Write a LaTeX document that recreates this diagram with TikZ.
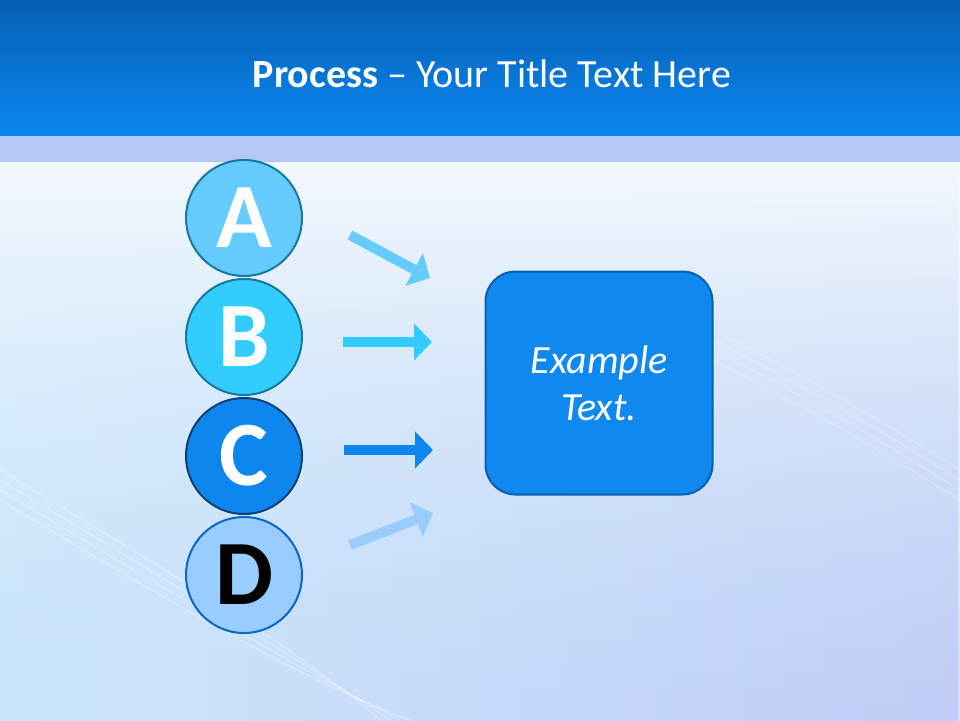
\documentclass[tikz,border=0pt]{standalone}
\usepackage{fontspec}
\setmainfont{Carlito}
\usetikzlibrary{arrows.meta, positioning, fadings}
\definecolor{barTop}{HTML}{0560B4}
\definecolor{barBot}{HTML}{0A86F0}
\definecolor{band}{HTML}{B3C8F6}
\definecolor{bgA}{HTML}{F4F9FE}
\definecolor{bgB}{HTML}{C0CDF5}
\definecolor{bgC}{HTML}{CBE6FB}
\definecolor{colA}{HTML}{66CCFF}
\definecolor{colB}{HTML}{33CCFF}
\definecolor{colC}{HTML}{0D87EE}
\definecolor{colD}{HTML}{99CCFF}
\definecolor{edgeA}{HTML}{1778A2}
\definecolor{edgeB}{HTML}{127A9E}
\definecolor{edgeC}{HTML}{0B3F78}
\definecolor{edgeD}{HTML}{0A66CC}
\definecolor{boxFill}{HTML}{0F88F0}
\definecolor{boxEdge}{HTML}{0B5FAE}

\begin{document}
\begin{tikzpicture}[x=1pt, y=-1pt]
\tikzstyle{letter}=[circle, minimum size = 116pt, inner sep = 0pt, line width = 2pt, font = \fontsize{92}{92}\selectfont\bfseries, text = white, node distance = 1pt]
\tikzstyle{connect}=[line width = 10pt, -{Triangle[length=18pt, width=36pt]}]
\useasboundingbox (0,0) rectangle (960,720);
% background
\shade[top color = bgA, bottom color = bgC] (0,162) rectangle (960,720);
\shade[left color = bgC, right color = bgB, path fading = north] (0,162) rectangle (960,720);
\foreach \d in {0,10,20,30} {
  \draw[white, opacity = 0.25, line width = 1.5pt] (0,{470+\d}) .. controls (150,{560+\d}) and (300,{650+\d}) .. ({380+\d},720);
  \draw[white, opacity = 0.2, line width = 1.2pt] (650,{300+\d}) .. controls (780,{360+\d}) and (880,{420+\d}) .. (960,{470+\d});
}
\shade[top color = barTop, bottom color = barBot] (0,0) rectangle (960,136);
\fill[band] (0,136) rectangle (960,162);
\node[anchor = base, text = white, font = \fontsize{40}{48}\selectfont] (title) at (492,87) {\textbf{Process} -- Your Title Text Here};

\node[letter, fill = colA, draw = edgeA] (A) at (244,218) {A};
\node[letter, fill = colB, draw = edgeB] (B) [below=of A] {B};
\node[letter, fill = colC, draw = edgeC] (C) [below=of B] {C};
\node[letter, fill = colD, draw = edgeD, text = black] (D) [below=of C] {D};
\node[rectangle, rounded corners = 30pt, minimum width = 227pt, minimum height = 223pt, fill = boxFill, draw = boxEdge, line width = 2pt, text = white, align = center, font = \fontsize{40}{47}\selectfont\itshape] (box) at (599,383) {Example\\Text.};

\coordinate (a1) at (350,235); \coordinate (a2) at (430,278);
\coordinate (b1) at (343,342); \coordinate (b2) at (432,342);
\coordinate (c1) at (344,450); \coordinate (c2) at (433,450);
\coordinate (d1) at (350,545); \coordinate (d2) at (433,513);
\draw[connect, colA] (a1) -- (a2);
\draw[connect, colB] (b1) -- (b2);
\draw[connect, colC] (c1) -- (c2);
\draw[connect, colD] (d1) -- (d2);
\end{tikzpicture}
\end{document}
